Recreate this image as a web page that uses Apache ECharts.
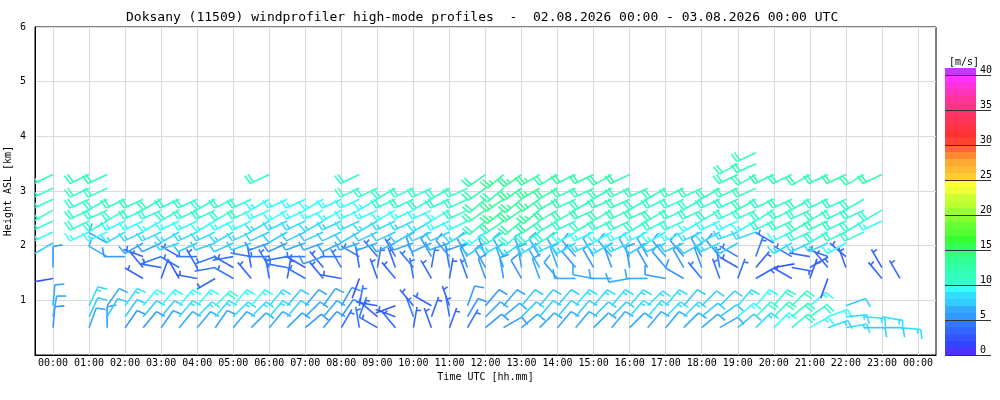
<!DOCTYPE html>
<html>
<head>
<meta charset="utf-8">
<title>Doksany windprofiler</title>
<script src="https://cdn.jsdelivr.net/npm/echarts@6/dist/echarts.min.js"></script>
<style>
  html, body { margin: 0; padding: 0; background: #fff; }
  #chart { width: 1000px; height: 400px; }
</style>
</head>
<body>
<div id="chart"></div>
<script>
const _ = null;
const MONO = "DejaVu Sans Mono";

// profile times [h UTC], one profile per 30 min
const times = [0, 0.5, 1, 1.5, 2, 2.5, 3, 3.5, 4, 4.5, 5, 5.5,
  6, 6.5, 7, 7.5, 8, 8.5, 9, 9.5, 10, 10.5, 11, 11.5,
  12, 12.5, 13, 13.5, 14, 14.5, 15, 15.5, 16, 16.5, 17, 17.5,
  18, 18.5, 19, 19.5, 20, 20.5, 21, 21.5, 22, 22.5, 23, 23.5, 24];

const hourTicks = [0, 1, 2, 3, 4, 5, 6, 7, 8, 9, 10, 11, 12, 13, 14, 15, 16, 17, 18, 19, 20, 21, 22, 23, 24];
const hourLabels = ["00:00", "01:00", "02:00", "03:00", "04:00", "05:00", "06:00", "07:00", "08:00",
  "09:00", "10:00", "11:00", "12:00", "13:00", "14:00", "15:00", "16:00", "17:00", "18:00",
  "19:00", "20:00", "21:00", "22:00", "23:00", "00:00"];

// gate heights [km ASL]
const levels = [0.5, 0.7, 0.9, 1.4, 1.6, 1.8, 2.05, 2.25, 2.45, 2.65, 2.85, 3.05, 3.3, 3.5, 3.7];

// wind speed [m/s] per level, one value per profile
const spd050 = [5,_,6,5,5,5,6,6,6,6,6,6, 6,6,5,5,4,4,3,3,3,3,3,4, 5,5,6,6,6,6,6,6,6,6,6,6, 6,6,7,8,9,10,9,8,8,7,7,8, _];
const spd070 = [6,_,7,7,7,7,7,8,8,8,8,8, 8,7,6,6,5,4,3,3,4,3,4,5, 6,6,7,7,7,7,7,7,8,8,8,8, 7,7,9,10,11,11,10,9,8,8,8,_, _];
const spd090 = [6,_,8,6,8,9,9,9,9,10,9,9, 8,7,6,6,5,4,3,2,3,3,3,5, 5,6,7,7,7,8,8,8,8,8,8,7, 7,7,8,9,10,10,9,_,7,_,_,_, _];
const spd140 = [2,_,_,_,_,3,3,2,3,3,4,3, 3,3,4,3,3,2,3,3,4,3,3,4, 5,5,5,6,6,6,6,6,6,6,5,5, 4,4,4,3,_,3,3,2,_,_,3,3, _];
const spd160 = [5,_,_,_,_,3,3,4,3,4,3,3, 4,4,3,3,4,3,4,3,4,4,4,5, 5,6,6,6,6,5,5,5,5,5,5,5, 5,4,3,3,2,3,3,3,3,_,3,_, _];
const spd180 = [_,_,_,6,5,3,4,3,4,4,4,4, 4,4,4,5,4,4,4,4,5,5,5,5, 6,6,6,6,6,6,6,6,6,6,6,5, 5,5,4,4,_,4,3,4,3,_,_,_, _];
const spd205 = [7,_,_,6,_,6,6,7,7,7,7,7, 5,5,6,6,6,6,6,6,6,6,6,6, 7,8,8,8,8,8,8,8,8,7,7,7, 7,8,7,_,4,8,8,8,9,_,_,_, _];
const spd225 = [9,_,9,9,8,8,8,8,8,8,8,8, 7,7,7,7,7,7,7,7,7,7,7,8, 9,10,10,10,10,9,9,9,9,9,9,9, 8,8,8,8,_,9,10,10,10,10,_,_, _];
const spd245 = [10,_,10,10,9,9,9,9,9,9,9,9, 8,8,8,8,8,8,8,8,8,8,9,9, 11,12,12,12,11,10,10,10,10,10,10,10, 9,9,9,9,10,10,11,11,10,10,9,_, _];
const spd265 = [10,_,10,10,10,10,10,10,10,10,10,10, 9,9,9,9,9,9,9,9,9,9,9,10, 12,13,13,13,12,11,11,11,11,11,11,10, 10,10,10,10,10,10,10,11,10,10,10,_, _];
const spd285 = [10,_,10,10,11,11,11,10,10,10,10,10, 9,9,9,9,9,9,9,10,10,10,10,10, 12,13,13,13,12,11,11,11,11,10,10,10, 10,10,10,11,10,11,11,10,10,10,_,_, _];
const spd305 = [10,_,10,10,_,_,_,_,_,_,_,_, _,_,_,_,_,10,10,10,10,10,10,10, 12,12,13,13,12,12,11,11,11,11,11,11, 11,11,11,11,_,_,_,_,_,_,_,_, _];
const spd330 = [11,_,11,11,_,_,_,_,_,_,_,_, 10,_,_,_,_,10,_,_,_,_,_,_, 12,13,13,13,12,12,12,12,12,_,_,_, _,_,11,11,12,11,12,11,12,11,12,_, _];
const spd350 = [_,_,_,_,_,_,_,_,_,_,_,_, _,_,_,_,_,_,_,_,_,_,_,_, _,_,_,_,_,_,_,_,_,_,_,_, _,_,11,11,_,_,_,_,_,_,_,_, _];
const spd370 = [_,_,_,_,_,_,_,_,_,_,_,_, _,_,_,_,_,_,_,_,_,_,_,_, _,_,_,_,_,_,_,_,_,_,_,_, _,_,_,11,_,_,_,_,_,_,_,_, _];

// wind direction [deg, from] per level
const dir050 = [5,_,20,0,35,40,35,40,40,35,40,45, 40,45,50,40,30,350,300,320,10,340,20,30, 50,60,50,45,40,40,45,40,45,40,40,45, 50,60,50,45,45,50,60,70,80,90,90,95, _];
const dir070 = [10,_,25,30,35,40,40,40,45,40,45,45, 40,40,45,40,35,20,310,290,340,20,350,30, 45,50,45,40,40,40,45,45,40,40,45,45, 50,55,50,45,45,50,55,70,85,95,100,_, _];
const dir090 = [5,_,25,35,35,40,40,40,40,45,40,40, 40,40,40,35,30,10,280,250,320,300,340,20, 40,40,40,40,40,40,40,40,40,45,40,40, 45,45,40,40,40,45,50,_,70,_,_,_, _];
const dir140 = [260,_,_,_,_,300,20,330,280,240,300,320, 350,10,300,320,280,200,340,320,350,330,10,340, 340,350,330,340,320,270,280,270,260,270,280,300, 320,340,20,60,_,300,20,200,_,_,320,330, _];
const dir160 = [0,_,_,_,_,320,280,300,330,260,300,350, 330,280,300,320,330,350,10,340,320,10,350,340, 330,340,350,330,340,320,330,340,350,330,320,330, 340,350,300,40,80,100,60,320,340,_,330,_, _];
const dir180 = [_,_,_,300,270,290,250,300,270,250,260,280, 270,260,270,250,270,300,320,330,340,330,320,330, 340,330,340,330,330,320,330,320,330,330,320,320, 330,320,300,20,_,300,280,290,310,_,_,_, _];
const dir205 = [240,_,_,300,_,240,245,250,245,250,245,250, 250,245,250,250,245,250,250,245,250,245,250,250, 235,240,235,240,245,240,245,240,245,240,245,245, 240,245,240,_,300,240,245,245,240,_,_,_, _];
const dir225 = [245,_,245,245,240,245,245,240,245,245,240,245, 245,240,245,245,245,240,245,245,240,245,245,240, 230,235,230,235,240,240,245,240,245,245,240,245, 245,240,250,250,_,245,245,240,245,245,_,_, _];
const dir245 = [245,_,245,240,245,245,240,245,245,240,245,245, 240,245,245,240,245,245,240,245,245,240,245,245, 230,235,230,235,240,245,240,245,245,240,245,245, 240,245,245,240,245,245,240,245,245,240,245,_, _];
const dir265 = [240,_,245,245,240,245,245,240,245,245,240,245, 245,240,245,245,240,245,245,240,245,245,240,245, 235,230,235,230,240,240,245,240,245,245,240,245, 245,240,245,245,240,245,245,240,245,245,240,_, _];
const dir285 = [245,_,245,240,245,245,240,245,245,240,245,245, 240,245,245,240,245,245,240,245,245,240,245,245, 230,235,230,235,240,245,240,245,245,240,245,245, 240,245,245,240,245,245,240,245,245,240,_,_, _];
const dir305 = [245,_,245,245,_,_,_,_,_,_,_,_, _,_,_,_,_,245,245,240,245,245,240,245, 235,230,235,240,240,245,245,240,245,245,240,245, 245,240,245,245,_,_,_,_,_,_,_,_, _];
const dir330 = [245,_,245,245,_,_,_,_,_,_,_,_, 245,_,_,_,_,245,_,_,_,_,_,_, 235,230,235,240,240,245,245,240,245,_,_,_, _,_,245,240,245,245,240,245,245,240,245,_, _];
const dir350 = [_,_,_,_,_,_,_,_,_,_,_,_, _,_,_,_,_,_,_,_,_,_,_,_, _,_,_,_,_,_,_,_,_,_,_,_, _,_,240,245,_,_,_,_,_,_,_,_, _];
const dir370 = [_,_,_,_,_,_,_,_,_,_,_,_, _,_,_,_,_,_,_,_,_,_,_,_, _,_,_,_,_,_,_,_,_,_,_,_, _,_,_,245,_,_,_,_,_,_,_,_, _];

// colour scale, one colour per 1 m/s (0..41)
const speedColors = [
  "#4d33ff", "#3344ff", "#3355ff", "#3366ff", "#3377ff",
  "#3399ff", "#33aaff", "#33ccff", "#33ddff", "#33ffff",
  "#33ffcc", "#33ffbb", "#33ffaa", "#33ff99", "#33ff77",
  "#33ff55", "#33ff33", "#55ff33", "#66ff33", "#88ff33",
  "#99ff33", "#bbff33", "#ccff33", "#eeff33", "#ffff33",
  "#ffcc33", "#ffbb33", "#ffaa33", "#ff8833", "#ff6633",
  "#ff4433", "#ff3333", "#ff3344", "#ff3355", "#ff3366",
  "#ff3388", "#ff3399", "#ff33bb", "#ff33dd", "#ff33ff",
  "#cc33ff"
];
const colorbarTicks = [0, 5, 10, 15, 20, 25, 30, 35, 40];

const speedRows = [spd050, spd070, spd090, spd140, spd160, spd180, spd205, spd225,
  spd245, spd265, spd285, spd305, spd330, spd350, spd370];
const dirRows = [dir050, dir070, dir090, dir140, dir160, dir180, dir205, dir225,
  dir245, dir265, dir285, dir305, dir330, dir350, dir370];

const barbs = [];
levels.forEach((h, k) => {
  times.forEach((t, i) => {
    const s = speedRows[k][i], d = dirRows[k][i];
    if (s == null || d == null) return;
    barbs.push([t, h, s, d]);
  });
});

const STAFF = 21, FEATHER = 9.5, GAP = 3.5;

// staff points to where the wind comes from, feathers on the clockwise side
function renderBarb(params, api) {
  const p = api.coord([api.value(0), api.value(1)]);
  const s = api.value(2), d = api.value(3);
  const color = speedColors[Math.min(40, Math.max(0, Math.floor(s)))];
  const a = d * Math.PI / 180;
  const ux = Math.sin(a), uy = -Math.cos(a);
  const b = (d + 80) * Math.PI / 180;
  const fx = Math.sin(b), fy = -Math.cos(b);
  const tx = p[0] + ux * STAFF, ty = p[1] + uy * STAFF;
  const style = { stroke: color, lineWidth: 1.6 };
  const lines = [{ type: "line", shape: { x1: p[0], y1: p[1], x2: tx, y2: ty }, style: style }];
  const full = Math.floor(s / 5);
  const half = s - full * 5 >= 2.5;
  let k = 0;
  for (; k < full; k++) {
    const x0 = tx - ux * GAP * k, y0 = ty - uy * GAP * k;
    lines.push({ type: "line", shape: { x1: x0, y1: y0, x2: x0 + fx * FEATHER, y2: y0 + fy * FEATHER }, style: style });
  }
  if (half) {
    if (k === 0) k = 1;
    const x0 = tx - ux * GAP * k, y0 = ty - uy * GAP * k;
    lines.push({ type: "line", shape: { x1: x0, y1: y0, x2: x0 + fx * FEATHER / 2, y2: y0 + fy * FEATHER / 2 }, style: style });
  }
  return { type: "group", children: lines };
}

function renderBand(params, api) {
  const v = api.value(1);
  const p0 = api.coord([0, v]);
  const p1 = api.coord([1, v + 1]);
  return {
    type: "rect",
    shape: { x: p0[0], y: p1[1], width: p1[0] - p0[0], height: p0[1] - p1[1] },
    style: { fill: speedColors[v] }
  };
}

const chart = echarts.init(document.getElementById("chart"), null, { renderer: "canvas" });

const option = {
  animation: false,
  backgroundColor: "#fff",
  textStyle: { fontFamily: MONO },
  title: [
    {
      text: "Doksany (11509) windprofiler high-mode profiles  -  02.08.2026 00:00 - 03.08.2026 00:00 UTC",
      left: 121, top: 6,
      textStyle: { fontFamily: MONO, fontSize: 13, fontWeight: "normal", color: "#000" }
    },
    {
      text: "[m/s]",
      left: 944, top: 52,
      textStyle: { fontFamily: MONO, fontSize: 10, fontWeight: "normal", color: "#000" }
    }
  ],
  grid: [
    {
      left: 35, top: 27, width: 901, height: 328, outerBoundsMode: "none", containLabel: false,
      show: true, borderColor: "#000", borderWidth: 1, backgroundColor: "transparent"
    },
    { left: 945, top: 68, width: 31, height: 287, outerBoundsMode: "none", containLabel: false }
  ],
  xAxis: [
    {
      gridIndex: 0, type: "value", min: -0.5, max: 24.5,
      name: "Time UTC [hh.mm]", nameLocation: "middle", nameGap: 15,
      nameTextStyle: { fontFamily: MONO, fontSize: 10, color: "#000" },
      axisLine: { onZero: false, lineStyle: { color: "#000", width: 1 } },
      axisTick: { show: false, customValues: hourTicks },
      axisLabel: {
        customValues: hourTicks,
        formatter: (v) => hourLabels[hourTicks.indexOf(v)],
        fontFamily: MONO, fontSize: 10, color: "#000", margin: 3
      },
      splitLine: { show: true, lineStyle: { color: "#d9d9d9", width: 1 } }
    },
    { gridIndex: 1, type: "value", min: 0, max: 1, show: false }
  ],
  yAxis: [
    {
      gridIndex: 0, type: "value", min: 0, max: 6, interval: 1,
      name: "Height ASL [km]", nameLocation: "middle", nameGap: 22, nameMoveOverlap: false,
      nameTextStyle: { fontFamily: MONO, fontSize: 10, color: "#000" },
      axisLine: { show: true, onZero: false, lineStyle: { color: "#000", width: 1 } },
      axisTick: { show: false },
      axisLabel: { showMinLabel: false, fontFamily: MONO, fontSize: 10, color: "#000", margin: 9 },
      splitLine: { show: true, lineStyle: { color: "#d9d9d9", width: 1 } }
    },
    {
      gridIndex: 1, type: "value", position: "right", min: 0, max: 41, interval: 5, z: 5,
      axisLine: { show: false, onZero: false },
      axisTick: { show: true, length: 15, customValues: colorbarTicks, lineStyle: { color: "#333", width: 1 } },
      axisLabel: {
        customValues: colorbarTicks,
        margin: 4, verticalAlign: "bottom", fontFamily: MONO, fontSize: 10, color: "#000"
      },
      splitLine: { show: true, lineStyle: { color: "#333", width: 1 } }
    }
  ],
  series: [
    {
      type: "custom",
      xAxisIndex: 0, yAxisIndex: 0,
      clip: true,
      renderItem: renderBarb,
      encode: { x: 0, y: 1 },
      data: barbs
    },
    {
      type: "custom",
      xAxisIndex: 1, yAxisIndex: 1,
      z: 1,
      renderItem: renderBand,
      encode: { x: 0, y: 1 },
      data: speedColors.map((c, i) => [0, i])
    }
  ]
};

chart.setOption(option);
</script>
</body>
</html>
